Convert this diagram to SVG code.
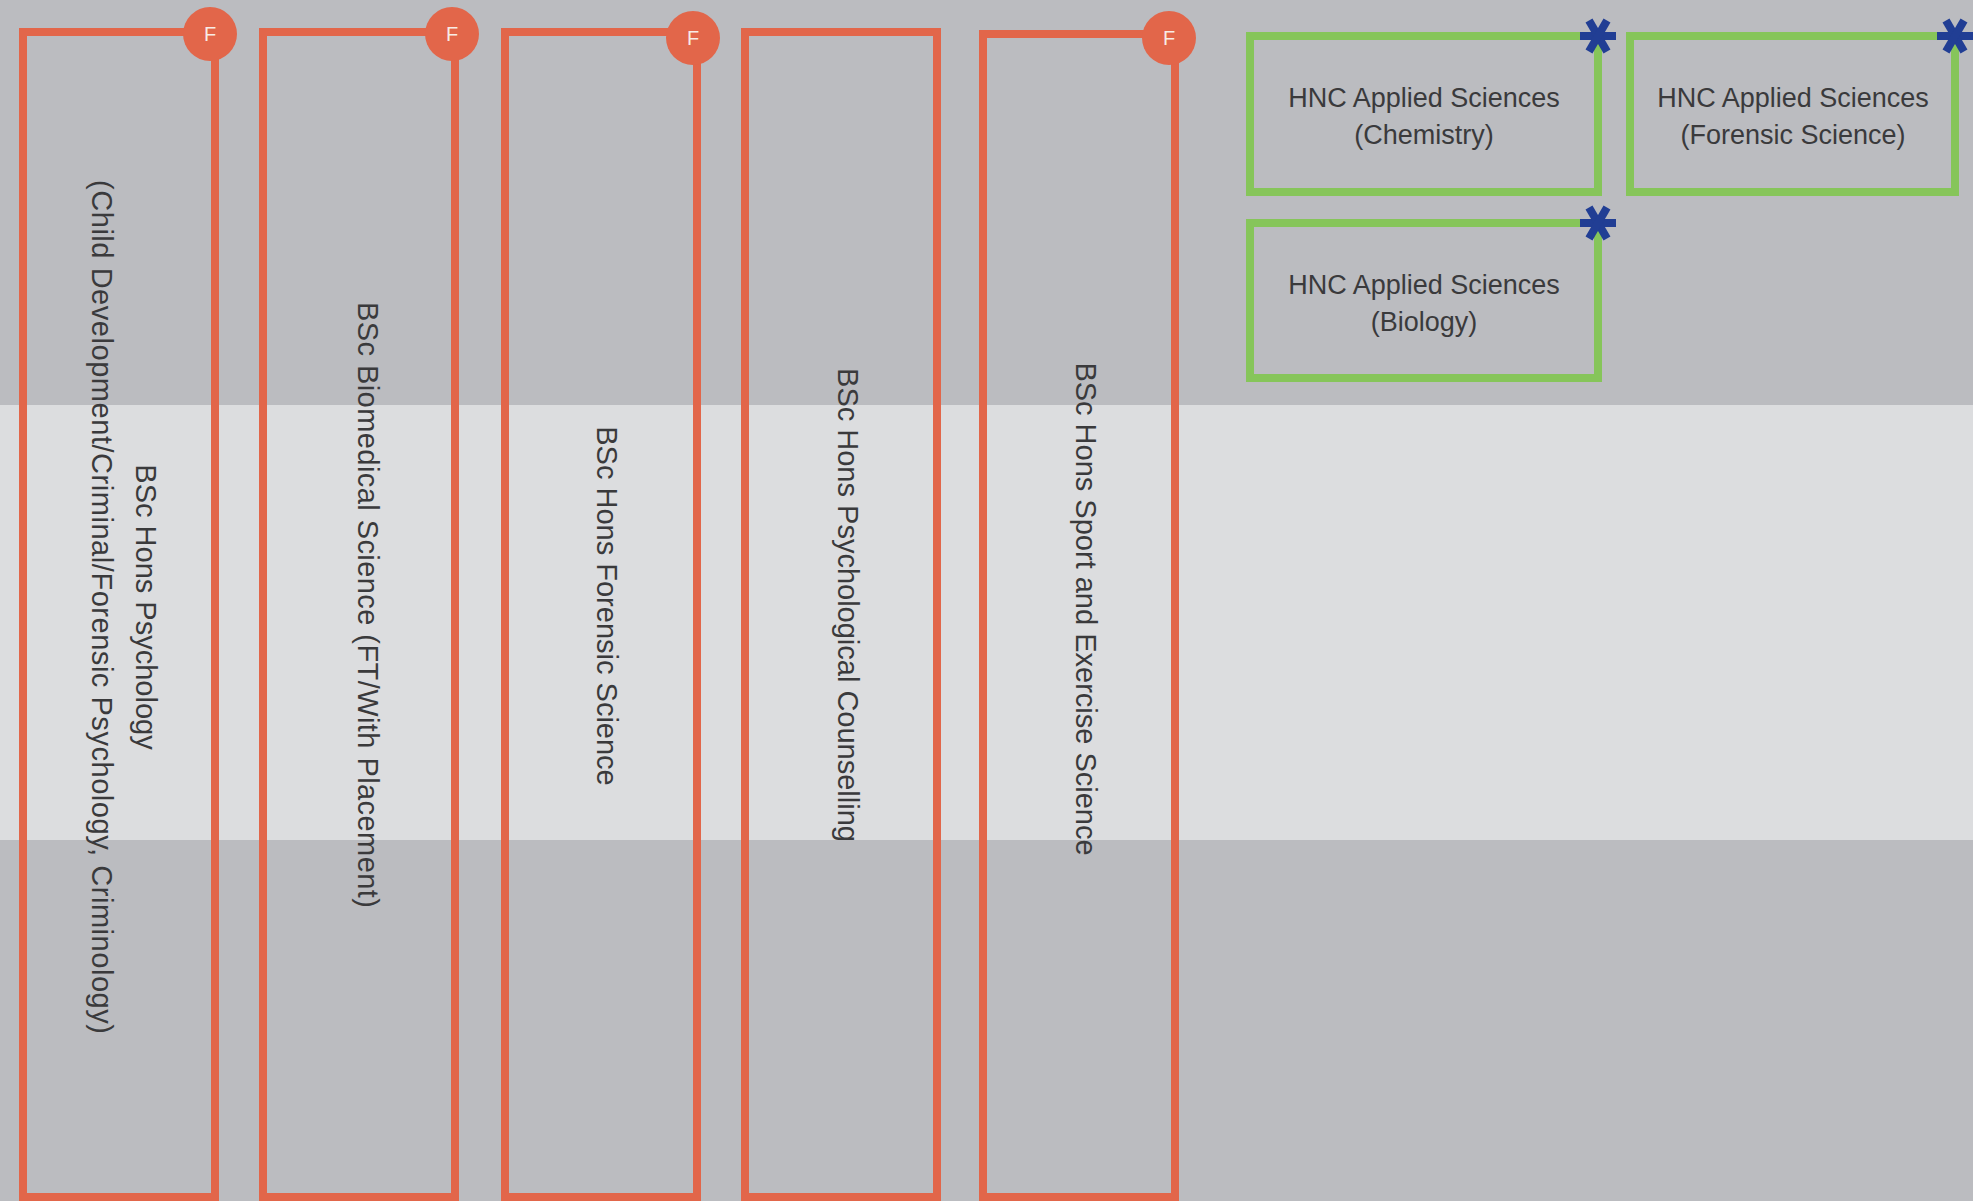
<svg xmlns="http://www.w3.org/2000/svg" width="1973" height="1201" viewBox="0 0 1973 1201">
<defs>
<style>
.prog{fill:none;stroke:#E2664A;stroke-width:8}
.hnc{fill:none;stroke:#86C55A;stroke-width:8}
.badge{fill:#E2664A}
.ftxt{font-family:"Liberation Sans",Arial,sans-serif;font-size:20px;fill:#F8ECE6;text-anchor:middle;dominant-baseline:central}
.vt{font-family:"Liberation Sans",Arial,sans-serif;font-size:29px;fill:#3A3A3C;text-anchor:middle}
.ht{font-family:"Liberation Sans",Arial,sans-serif;font-size:27px;fill:#3A3A3C;text-anchor:middle}
.star{fill:none;stroke:#213E94;stroke-width:8}
</style>
<g id="asterisk">
<line x1="-18" y1="0" x2="18" y2="0"/>
<line x1="-9" y1="-15.6" x2="9" y2="15.6"/>
<line x1="9" y1="-15.6" x2="-9" y2="15.6"/>
</g>
</defs>
<g id="background">
<rect x="0" y="0" width="1973" height="1201" fill="#BBBCC0"/>
<rect x="0" y="405" width="1973" height="435" fill="#DCDDDF"/>
</g>
<g id="connectors"></g>
<g id="node-psychology">
<rect class="prog" x="23" y="32" width="192" height="1165"/>
<circle class="badge" cx="210" cy="34" r="27"/>
<text class="ftxt" x="210" y="34">F</text>
<text class="vt" transform="translate(136,607) rotate(90)"><tspan x="0" y="0">BSc Hons Psychology</tspan><tspan x="0" y="44" textLength="854" lengthAdjust="spacing">(Child Development/Criminal/Forensic Psychology, Criminology)</tspan></text>
</g>
<g id="node-biomedical">
<rect class="prog" x="263" y="32" width="192" height="1165"/>
<circle class="badge" cx="452" cy="34" r="27"/>
<text class="ftxt" x="452" y="34">F</text>
<text class="vt" transform="translate(358,605) rotate(90)" textLength="606" lengthAdjust="spacing">BSc Biomedical Science (FT/With Placement)</text>
</g>
<g id="node-forensic">
<rect class="prog" x="505" y="32" width="192" height="1165"/>
<circle class="badge" cx="693" cy="38" r="27"/>
<text class="ftxt" x="693" y="38">F</text>
<text class="vt" transform="translate(597,606) rotate(90)">BSc Hons Forensic Science</text>
</g>
<g id="node-counselling">
<rect class="prog" x="745" y="32" width="192" height="1165"/>
<text class="vt" transform="translate(838,605) rotate(90)">BSc Hons Psychological Counselling</text>
</g>
<g id="node-sport">
<rect class="prog" x="983" y="34" width="192" height="1163"/>
<circle class="badge" cx="1169" cy="38" r="27"/>
<text class="ftxt" x="1169" y="38">F</text>
<text class="vt" transform="translate(1076,609) rotate(90)">BSc Hons Sport and Exercise Science</text>
</g>
<g id="node-hnc-chemistry">
<rect class="hnc" x="1250" y="36" width="348" height="156"/>
<use href="#asterisk" class="star" x="1598" y="36"/>
<text class="ht" x="1424" y="107">HNC Applied Sciences</text>
<text class="ht" x="1424" y="144">(Chemistry)</text>
</g>
<g id="node-hnc-forensic">
<rect class="hnc" x="1630" y="36" width="325" height="156"/>
<use href="#asterisk" class="star" x="1955" y="36"/>
<text class="ht" x="1793" y="107">HNC Applied Sciences</text>
<text class="ht" x="1793" y="144">(Forensic Science)</text>
</g>
<g id="node-hnc-biology">
<rect class="hnc" x="1250" y="223" width="348" height="155"/>
<use href="#asterisk" class="star" x="1598" y="223"/>
<text class="ht" x="1424" y="294">HNC Applied Sciences</text>
<text class="ht" x="1424" y="331">(Biology)</text>
</g>
</svg>
